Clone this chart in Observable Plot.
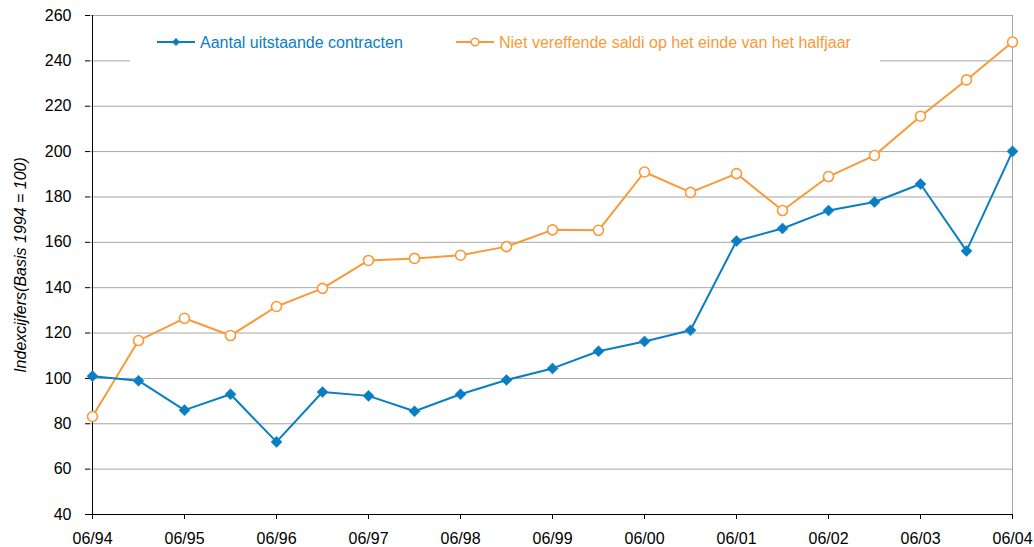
<!DOCTYPE html>
<html><head><meta charset="utf-8">
<script src="https://cdn.jsdelivr.net/npm/d3@7"></script>
<script src="https://cdn.jsdelivr.net/npm/@observablehq/plot@0.6"></script>
<style>
body{margin:0;background:#fff;font-family:Arial,"Liberation Sans",sans-serif}
#wrap{position:relative;width:1034px;height:547px}
#legend{position:absolute;left:130px;top:24px;width:750px;height:44px;background:#fff}
</style></head><body>
<div id="wrap"><div id="legend"></div></div>
<script>
const periods = ["06/94","12/94","06/95","12/95","06/96","12/96","06/97","12/97","06/98","12/98","06/99","12/99","06/00","12/00","06/01","12/01","06/02","12/02","06/03","12/03","06/04"];
const contracten = [101,99,86,93,72,94,92.3,85.5,93,99.3,104.4,112,116.3,121.2,160.6,166.1,174,177.8,185.7,156.2,200.1];
const saldi = [83.2,116.7,126.5,118.9,131.7,139.7,152,152.9,154.3,158.1,165.5,165.3,191,182,190.3,174,189,198.3,215.6,231.6,248.3];
const xTicks = ["06/94","06/95","06/96","06/97","06/98","06/99","06/00","06/01","06/02","06/03","06/04"];
const yTicks = [40,60,80,100,120,140,160,180,200,220,240,260];
const seriesNames = ["Aantal uitstaande contracten","Niet vereffende saldi op het einde van het halfjaar"];
const yLabel = "Indexcijfers(Basis 1994 = 100)";
const blue = "#0a7ec2", orange = "#f89a38";

const dataA = periods.map((p,i)=>({p, v: contracten[i]}));
const dataB = periods.map((p,i)=>({p, v: saldi[i]}));

const chart = Plot.plot({
  width: 1034, height: 547,
  marginLeft: 90, marginRight: 21, marginTop: 15, marginBottom: 33,
  style: {fontFamily: "Arial, 'Liberation Sans', sans-serif", fontSize: "16px", color: "#000", background: "#fff"},
  x: {type: "point", domain: periods, padding: 0},
  y: {domain: [40, 260]},
  marks: [
    Plot.gridY(yTicks, {stroke: "#a6a6a6", strokeOpacity: 1}),
    Plot.ruleX([periods[periods.length-1]], {stroke: "#a6a6a6"}),
    Plot.axisY({ticks: yTicks, tickSize: 5, tickPadding: 14, fontSize: 16, label: yLabel, labelAnchor: "center", labelArrow: "none", labelOffset: 76}),
    Plot.axisX({ticks: xTicks, tickSize: 5, tickPadding: 13, fontSize: 16, label: null}),
    Plot.ruleX([periods[0]], {stroke: "#000"}),
    Plot.ruleY([40], {stroke: "#000"}),
    Plot.line(dataB, {x: "p", y: "v", stroke: orange, strokeWidth: 2}),
    Plot.dot(dataB, {x: "p", y: "v", r: 5, stroke: orange, fill: "#fff", strokeWidth: 1.6}),
    Plot.line(dataA, {x: "p", y: "v", stroke: blue, strokeWidth: 2}),
    Plot.dot(dataA, {x: "p", y: "v", symbol: "diamond2", r: 5, fill: blue, stroke: blue, strokeWidth: 0.5})
  ]
});
d3.select(chart).selectAll("g[aria-label='y-axis label'] text").style("font-style","italic");
document.getElementById("wrap").prepend(chart);

// legend
const lg = d3.select("#legend").append("svg").attr("width",750).attr("height",44)
  .style("font-family","Arial, 'Liberation Sans', sans-serif").style("font-size","16px");
const items = [
  {name: seriesNames[0], color: blue, x0: 27, sym: "diamond"},
  {name: seriesNames[1], color: orange, x0: 326, sym: "circle"}
];
items.forEach(it => {
  const g = lg.append("g");
  g.append("line").attr("x1", it.x0).attr("x2", it.x0+38).attr("y1",18).attr("y2",18).attr("stroke",it.color).attr("stroke-width",2);
  if (it.sym === "diamond") {
    g.append("path").attr("d", d3.symbol(d3.symbolDiamond2, 40)()).attr("transform",`translate(${it.x0+19},18)`).attr("fill",it.color);
  } else {
    g.append("circle").attr("cx", it.x0+19).attr("cy",18).attr("r",3.8).attr("fill","#fff").attr("stroke",it.color).attr("stroke-width",1.5);
  }
  g.append("text").attr("x", it.x0+43).attr("y",23.5).attr("fill",it.color).text(it.name);
});
</script>
</body></html>
